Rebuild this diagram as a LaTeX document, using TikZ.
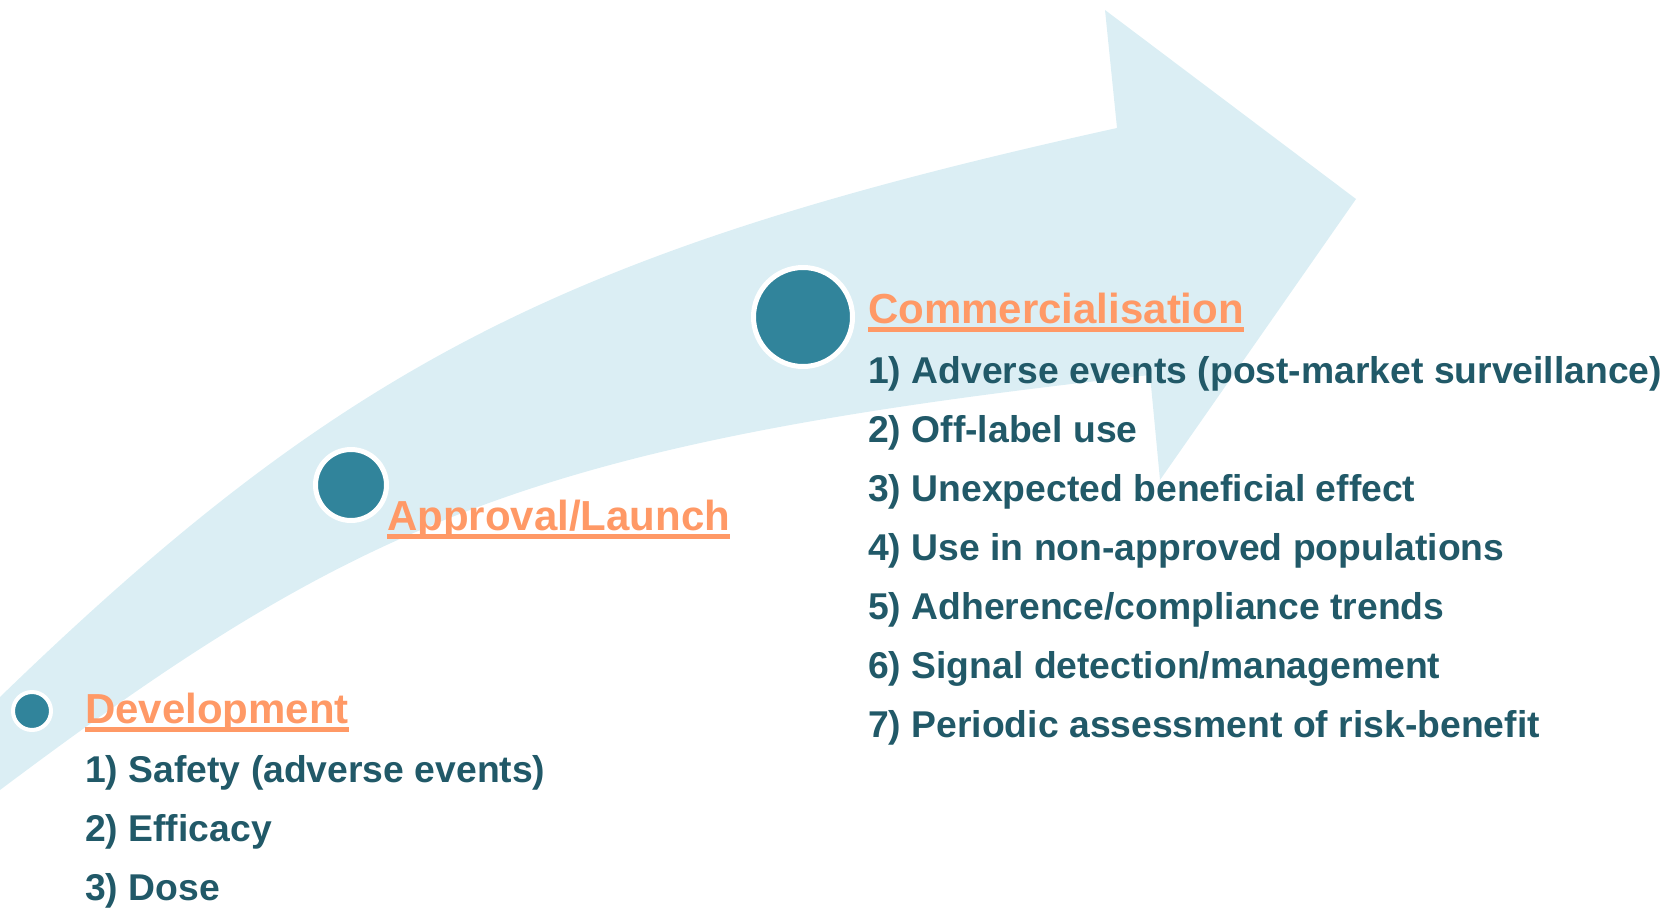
\documentclass[tikz,border=0pt]{standalone}
\usepackage{fontspec}
\setmainfont{Liberation Sans}
\definecolor{band}{HTML}{DBEEF4}
\definecolor{dot}{HTML}{31849B}
\definecolor{txt}{HTML}{215968}
\definecolor{hd}{HTML}{FF9966}
\newcommand\myul[1]{\setbox0\hbox{#1}\rlap{\rule[-8.5pt]{\wd0}{4.5pt}}\box0}
\tikzset{
  heading/.style={anchor=base west, inner sep=0pt, text=hd, font=\fontsize{42}{50}\selectfont\bfseries},
  item/.style={anchor=base west, inner sep=0pt, text=txt, font=\fontsize{37.3}{44}\selectfont\bfseries},
  dotstyle/.style={circle, fill=dot, draw=white, inner sep=0pt}
}
\begin{document}
\begin{tikzpicture}[x=1pt,y=-1pt]
\useasboundingbox (0,0) rectangle (1677,910);
\begin{scope}
\clip (0,0) rectangle (1677,910);
\fill[band] (0,697) .. controls (345,363) and (568,249) .. (1117,128)
  -- (1105,10) -- (1356,199) -- (1160,480) -- (1150,375)
  .. controls (533,443) and (360,520) .. (0,790) -- cycle;
\end{scope}
% dots
\node[dotstyle, minimum size=38pt, line width=4pt] (d1) at (32,711) {};
\node[dotstyle, minimum size=71pt, line width=5pt] (d2) at (351,485) {};
\node[dotstyle, minimum size=99pt, line width=5pt] (d3) at (803,317) {};
% headings
\node[heading] (h1) at (85,723) {\myul{Development}};
\node[heading] (h2) at (387,530) {\myul{Approval/Launch}};
\node[heading] (h3) at (868,323) {\myul{Commercialisation}};
% development list
\node[item] (a1) at (85,782) {1) Safety (adverse events)};
\node[item] (a2) at (85,841) {2) Efficacy};
\node[item] (a3) at (85,900) {3) Dose};
% commercialisation list
\node[item] (c1) at (868,383) {1) Adverse events (post-market surveillance)};
\node[item] (c2) at (868,442) {2) Off-label use};
\node[item] (c3) at (868,501) {3) Unexpected beneficial effect};
\node[item] (c4) at (868,560) {4) Use in non-approved populations};
\node[item] (c5) at (868,619) {5) Adherence/compliance trends};
\node[item] (c6) at (868,678) {6) Signal detection/management};
\node[item] (c7) at (868,737) {7) Periodic assessment of risk-benefit};
\end{tikzpicture}
\end{document}
